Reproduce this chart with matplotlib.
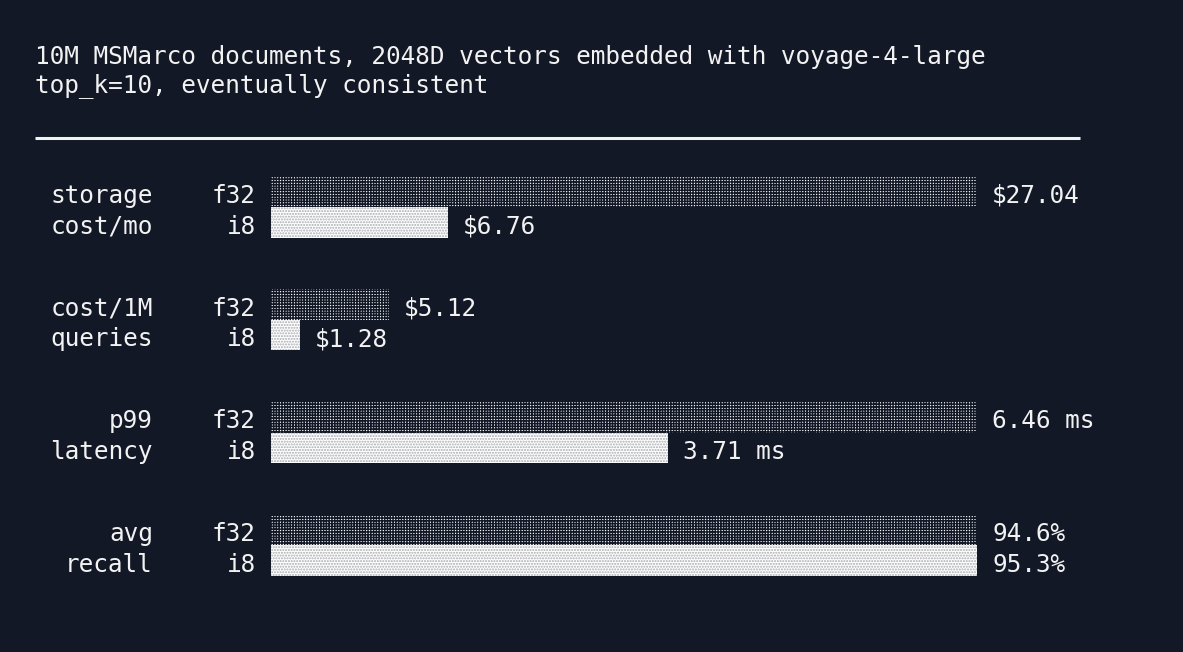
import matplotlib
matplotlib.use("Agg")
import matplotlib.pyplot as plt
import numpy as np

BG = "#121826"
INK = "#f2f2f2"

title_lines = ["10M MSMarco documents, 2048D vectors embedded with voyage-4-large",
               "top_k=10, eventually consistent"]
label_top = ["storage", "cost/1M", "p99", "avg"]
label_bottom = ["cost/mo", "queries", "latency", "recall"]
series = ["f32", "i8"]
f32_vals = [27.04, 5.12, 6.46, 94.6]
i8_vals = [6.76, 1.28, 3.71, 95.3]
f32_text = ["$27.04", "$5.12", "6.46 ms", "94.6%"]
i8_text = ["$6.76", "$1.28", "3.71 ms", "95.3%"]
scale_max = [27.04, 30.0, 6.46, 94.6]   # value that fills the full bar
CELLS = 48                               # bar width in character cells

plt.rcParams["font.family"] = ["DejaVu Sans Mono"]
FS = 17.6

fig = plt.figure(figsize=(11.83, 6.52), dpi=100)
fig.patch.set_facecolor(BG)
ax = fig.add_axes([0, 0, 1, 1])
ax.set_facecolor(BG)
ax.set_xlim(0, 1183)
ax.set_ylim(652, 0)
ax.axis("off")

cell = 0.602 * FS * 100 / 72   # monospace advance in px
x0 = 271

ax.text(35, 64, title_lines[0], color=INK, fontsize=FS, va="baseline")
ax.text(35, 92, title_lines[1], color=INK, fontsize=FS, va="baseline")
# divider row of underscores
ax.hlines(137.5, 35, 1080, color=INK, linewidth=2.2)

styles = [dict(facecolor="#ffffff", hatch="++++++", edgecolor=BG),
          dict(facecolor="#ffffff", hatch="......", edgecolor="#a8aab0")]

for g in range(len(label_top)):
    yc = 192 + g * 112.7
    rows = [(f32_vals[g], f32_text[g]), (i8_vals[g], i8_text[g])]
    for r, (v, txt) in enumerate(rows):
        y = yc + r * 30.5
        n = min(CELLS, int(np.floor(v / scale_max[g] * CELLS)))
        w = n * cell
        plt.rcParams["hatch.linewidth"] = 1.1 if r == 0 else 1.0
        ax.barh(y, w, left=x0, height=30.5, linewidth=0, **styles[r])
        ax.text(x0 + w + cell, y + 4, txt, color=INK, fontsize=FS, va="center")
        ax.text(256, y + 4, series[r], color=INK, fontsize=FS, va="center", ha="right")
    ax.text(153, yc + 4, label_top[g], color=INK, fontsize=FS, va="center", ha="right")
    ax.text(153, yc + 34.5, label_bottom[g], color=INK, fontsize=FS, va="center", ha="right")

fig.savefig("out.png", dpi=100, facecolor=fig.get_facecolor())
